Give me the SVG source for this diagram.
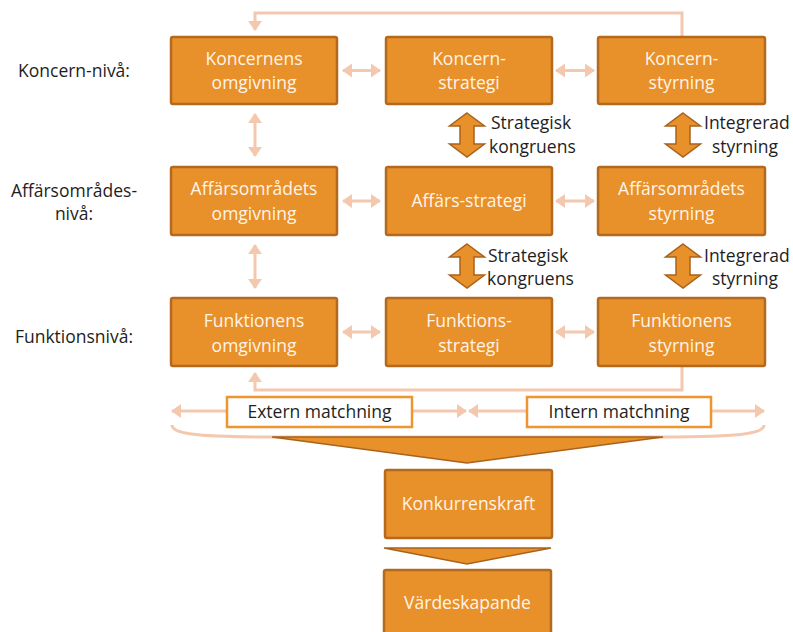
<svg xmlns="http://www.w3.org/2000/svg" width="793" height="632" viewBox="0 0 793 632">
  <defs>
    <style>
      .box { fill: #E8902A; stroke: #B46A1E; stroke-width: 2.5; }
      .btxt { font-family: "Open Sans", "Noto Sans", sans-serif; font-size: 17.5px; fill: #FFF4E8; text-anchor: middle; }
      .lbl { font-family: "Open Sans", "Noto Sans", sans-serif; font-size: 17.5px; fill: #1E1E1E; }
      .mid { text-anchor: middle; }
      .link { fill: none; stroke: #F4C8AE; stroke-width: 3; }
      .big { fill: #E8902A; stroke: #A9621C; stroke-width: 1.5; stroke-linejoin: miter; }
      .mbox { fill: #FFFFFF; stroke: #EE9530; stroke-width: 2.5; }
      .mtxt { font-family: "Open Sans", "Noto Sans", sans-serif; font-size: 17.5px; fill: #1E1E1E; text-anchor: middle; }
    </style>
    <marker id="head" viewBox="0 0 10 14" refX="9" refY="7" markerWidth="10" markerHeight="14" markerUnits="userSpaceOnUse" orient="auto-start-reverse">
      <path d="M0,0 L10,7 L0,14 Z" fill="#F4C8AE"/>
    </marker>
  </defs>

  <!-- level labels -->
  <g id="level-labels">
    <text class="lbl mid" x="74" y="77">Koncern-nivå:</text>
    <text class="lbl mid" x="74" y="197">Affärsområdes-</text>
    <text class="lbl mid" x="74" y="220">nivå:</text>
    <text class="lbl mid" x="74" y="343">Funktionsnivå:</text>
  </g>

  <!-- connectors -->
  <g id="connectors">
    <!-- feedback loops -->
    <path class="link" d="M682,37 V13 H255 V30" marker-end="url(#head)"/>
    <path class="link" d="M682,366 V390 H255 V373" marker-end="url(#head)"/>
    <!-- horizontal links between boxes -->
    <line class="link" x1="343" y1="70.5" x2="380" y2="70.5" marker-start="url(#head)" marker-end="url(#head)"/>
    <line class="link" x1="556" y1="70.5" x2="594" y2="70.5" marker-start="url(#head)" marker-end="url(#head)"/>
    <line class="link" x1="343" y1="201" x2="380" y2="201" marker-start="url(#head)" marker-end="url(#head)"/>
    <line class="link" x1="556" y1="201" x2="594" y2="201" marker-start="url(#head)" marker-end="url(#head)"/>
    <line class="link" x1="343" y1="332" x2="380" y2="332" marker-start="url(#head)" marker-end="url(#head)"/>
    <line class="link" x1="556" y1="332" x2="594" y2="332" marker-start="url(#head)" marker-end="url(#head)"/>
    <!-- vertical links, left column -->
    <line class="link" x1="255" y1="114" x2="255" y2="156" marker-start="url(#head)" marker-end="url(#head)"/>
    <line class="link" x1="255" y1="245" x2="255" y2="288" marker-start="url(#head)" marker-end="url(#head)"/>
    <!-- matching arrows -->
    <line class="link" x1="227" y1="411" x2="172" y2="411" marker-end="url(#head)"/>
    <line class="link" x1="412" y1="411" x2="466" y2="411" marker-end="url(#head)"/>
    <line class="link" x1="527" y1="411" x2="469" y2="411" marker-end="url(#head)"/>
    <line class="link" x1="711" y1="411" x2="764" y2="411" marker-end="url(#head)"/>
    <!-- brace under the matching row -->
    <path class="link" stroke-width="2.5" d="M172,425 C172,433 190,437 272,437 H662 C745,437 764,433 764,425"/>
    <!-- congruence / integration arrows -->
    <polygon class="big" points="467,113 484.5,126 474,126 474,144 484.5,144 467,157 449.5,144 460,144 460,126 449.5,126"/>
    <polygon class="big" points="683,113 700.5,126 690,126 690,144 700.5,144 683,157 665.5,144 676,144 676,126 665.5,126"/>
    <polygon class="big" points="467,244 484.5,257 474,257 474,275 484.5,275 467,288 449.5,275 460,275 460,257 449.5,257"/>
    <polygon class="big" points="683,244 700.5,257 690,257 690,275 700.5,275 683,288 665.5,275 676,275 676,257 665.5,257"/>
    <!-- funnels -->
    <polygon class="big" points="272,437 663,437 467,463"/>
    <polygon class="big" points="384,548 551,548 467,564"/>
  </g>

  <!-- arrow captions -->
  <g id="captions">
    <text class="lbl" x="491" y="129">Strategisk</text>
    <text class="lbl" x="489" y="153">kongruens</text>
    <text class="lbl" x="704" y="129">Integrerad</text>
    <text class="lbl" x="712" y="153">styrning</text>
    <text class="lbl" x="488" y="262">Strategisk</text>
    <text class="lbl" x="487" y="285">kongruens</text>
    <text class="lbl" x="704" y="262">Integrerad</text>
    <text class="lbl" x="712" y="285">styrning</text>
  </g>

  <!-- concern level -->
  <g id="koncernens-omgivning">
    <rect class="box" x="171" y="37" width="166" height="67" rx="2"/>
    <text class="btxt" x="254" y="65">Koncernens</text>
    <text class="btxt" x="254" y="89">omgivning</text>
  </g>
  <g id="koncern-strategi">
    <rect class="box" x="386" y="37" width="166" height="67" rx="2"/>
    <text class="btxt" x="469" y="65">Koncern-</text>
    <text class="btxt" x="469" y="89">strategi</text>
  </g>
  <g id="koncern-styrning">
    <rect class="box" x="598" y="37" width="167" height="67" rx="2"/>
    <text class="btxt" x="681.5" y="65">Koncern-</text>
    <text class="btxt" x="681.5" y="89">styrning</text>
  </g>

  <!-- business area level -->
  <g id="affarsomradets-omgivning">
    <rect class="box" x="171" y="167" width="166" height="68" rx="2"/>
    <text class="btxt" x="254" y="195">Affärsområdets</text>
    <text class="btxt" x="254" y="220">omgivning</text>
  </g>
  <g id="affars-strategi">
    <rect class="box" x="386" y="167" width="166" height="68" rx="2"/>
    <text class="btxt" x="469" y="207">Affärs-strategi</text>
  </g>
  <g id="affarsomradets-styrning">
    <rect class="box" x="598" y="167" width="167" height="68" rx="2"/>
    <text class="btxt" x="681.5" y="195">Affärsområdets</text>
    <text class="btxt" x="681.5" y="220">styrning</text>
  </g>

  <!-- function level -->
  <g id="funktionens-omgivning">
    <rect class="box" x="171" y="298" width="166" height="68" rx="2"/>
    <text class="btxt" x="254" y="327">Funktionens</text>
    <text class="btxt" x="254" y="352">omgivning</text>
  </g>
  <g id="funktions-strategi">
    <rect class="box" x="386" y="298" width="166" height="68" rx="2"/>
    <text class="btxt" x="469" y="327">Funktions-</text>
    <text class="btxt" x="469" y="352">strategi</text>
  </g>
  <g id="funktionens-styrning">
    <rect class="box" x="598" y="298" width="167" height="68" rx="2"/>
    <text class="btxt" x="681.5" y="327">Funktionens</text>
    <text class="btxt" x="681.5" y="352">styrning</text>
  </g>

  <!-- matching -->
  <g id="extern-matchning">
    <rect class="mbox" x="227" y="397" width="185" height="30"/>
    <text class="mtxt" x="319.5" y="418">Extern matchning</text>
  </g>
  <g id="intern-matchning">
    <rect class="mbox" x="527" y="397" width="184" height="30"/>
    <text class="mtxt" x="619" y="418">Intern matchning</text>
  </g>

  <!-- outcomes -->
  <g id="konkurrenskraft">
    <rect class="box" x="385" y="470" width="167" height="68" rx="2"/>
    <text class="btxt" x="468.5" y="510">Konkurrenskraft</text>
  </g>
  <g id="vardeskapande">
    <rect class="box" x="384" y="570" width="167" height="70" rx="2"/>
    <text class="btxt" x="467.5" y="609">Värdeskapande</text>
  </g>
</svg>
